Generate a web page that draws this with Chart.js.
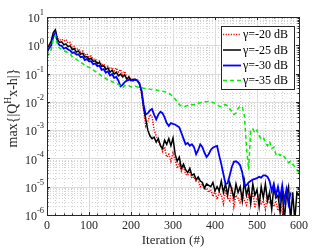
<!DOCTYPE html>
<html>
<head>
<meta charset="utf-8">
<script src="https://cdn.jsdelivr.net/npm/chart.js@4.4.0/dist/chart.umd.min.js"></script>
<style>
  html, body { margin: 0; padding: 0; background: #fff; }
</style>
</head>
<body>
<canvas id="chart" width="332" height="249"></canvas>
<script>
// iteration index, one sample every 5 iterations
const iterations = [
  0, 5, 10, 15, 20, 25, 30, 35, 40, 45,
  50, 55, 60, 65, 70, 75, 80, 85, 90, 95,
  100, 105, 110, 115, 120, 125, 130, 135, 140, 145,
  150, 155, 160, 165, 170, 175, 180, 185, 190, 195,
  200, 205, 210, 215, 220, 225, 230, 235, 240, 245,
  250, 255, 260, 265, 270, 275, 280, 285, 290, 295,
  300, 305, 310, 315, 320, 325, 330, 335, 340, 345,
  350, 355, 360, 365, 370, 375, 380, 385, 390, 395,
  400, 405, 410, 415, 420, 425, 430, 435, 440, 445,
  450, 455, 460, 465, 470, 475, 480, 485, 490, 495,
  500, 505, 510, 515, 520, 525, 530, 535, 540, 545,
  550, 555, 560, 565, 570, 575, 580, 585, 590, 595,
  600,
];

// series values stored as log10 of max{|Q^H x - h|}
const gamma20 = [
  -0.05, 0.0, 0.1, 0.35, 0.45, 0.25, 0.18, 0.22, 0.15, 0.2,
  0.08, 0.1, -0.08, -0.04, -0.15, -0.12, -0.24, -0.2, -0.35, -0.3,
  -0.42, -0.38, -0.5, -0.48, -0.6, -0.56, -0.7, -0.66, -0.78, -0.74,
  -0.84, -0.78, -0.9, -0.8, -0.95, -0.85, -1.05, -0.92, -1.15, -1.1,
  -1.22, -1.18, -1.25, -1.2, -1.35, -1.7, -2.3, -2.85, -2.7, -2.45,
  -2.5, -3.0, -3.2, -3.4, -3.5, -3.75, -3.6, -3.95, -3.85, -4.1,
  -3.8, -4.05, -4.35, -4.2, -4.45, -4.3, -4.55, -4.6, -4.45, -4.7,
  -4.65, -4.8, -4.75, -5.0, -4.9, -5.1, -5.05, -5.2, -5.1, -5.35,
  -5.15, -5.45, -5.2, -5.3, -5.6, -5.1, -5.4, -5.5, -5.0, -5.7,
  -5.3, -5.4, -5.6, -5.2, -5.5, -5.65, -5.3, -5.5, -5.2, -5.75,
  -5.4, -5.3, -5.6, -5.5, -5.8, -5.3, -5.6, -5.45, -5.7, -5.5,
  -5.85, -5.6, -5.9, -5.5, null, null, null, null, null, null,
  null,
];
const gamma25 = [
  -0.1, 0.0, 0.15, 0.45, 0.55, 0.2, 0.1, 0.12, 0.02, 0.05,
  -0.05, -0.02, -0.15, -0.12, -0.24, -0.2, -0.32, -0.28, -0.42, -0.4,
  -0.5, -0.46, -0.57, -0.55, -0.65, -0.6, -0.75, -0.72, -0.86, -0.8,
  -0.95, -0.88, -1.02, -0.95, -1.08, -1.02, -1.12, -1.05, -1.2, -1.12,
  -1.25, -1.2, -1.22, -1.25, -1.35, -1.6, -2.2, -2.6, -3.0, -3.2,
  -3.3, -3.25, -3.42, -3.3, -3.55, -3.65, -3.35, -3.5, -3.3, -3.55,
  -3.28, -3.85, -4.1, -3.95, -4.35, -4.2, -4.4, -4.5, -4.35, -4.6,
  -4.55, -4.75, -4.65, -4.8, -4.85, -5.05, -4.9, -4.95, -5.0, -4.85,
  -5.15, -5.0, -5.15, -4.8, -5.2, -4.9, -5.3, -4.85, -5.1, -5.4,
  -4.9, -5.2, -5.0, -5.5, -4.8, -5.3, -5.0, -5.6, -4.9, -5.3,
  -5.1, -5.7, -5.0, -5.4, -4.9, -5.5, -5.2, -5.8, -5.0, -5.4,
  -5.3, -5.9, -5.1, -6.2, -5.3, -5.0, -6.2, -5.2, -6.2, -5.2,
  -5.3,
];
const gamma30 = [
  -0.25, -0.1, 0.0, 0.3, 0.45, 0.1, 0.0, -0.02, -0.12, -0.08,
  -0.15, -0.18, -0.27, -0.25, -0.33, -0.32, -0.42, -0.4, -0.52, -0.48,
  -0.57, -0.56, -0.67, -0.64, -0.74, -0.72, -0.87, -0.84, -0.97, -0.92,
  -1.07, -1.02, -1.15, -1.12, -1.25, -1.45, -1.4, -1.3, -1.25, -1.22,
  -1.22, -1.25, -1.2, -1.25, -1.35, -1.6, -2.1, -2.45, -2.4, -2.3,
  -2.25, -2.45, -2.62, -2.45, -2.35, -2.4, -2.55, -2.75, -2.85, -2.75,
  -2.78, -2.8, -2.85, -2.9, -3.1, -3.3, -3.5, -3.45, -3.55, -3.5,
  -3.6, -3.85, -3.7, -3.5, -3.6, -3.8, -3.95, -3.85, -3.7, -3.62,
  -3.58, -3.56, -3.9, -4.2, -4.55, -4.9, -4.88, -4.6, -4.3, -4.12,
  -4.1, -4.15, -4.25, -4.5, -4.95, -4.95, -4.85, -4.8, -4.75, -4.72,
  -4.7, -4.65, -4.68, -4.6, -4.6, -4.65, -4.8, -5.15, -4.9, -5.3,
  -5.0, -5.4, -4.95, -5.5, -5.1, -5.6, -5.2, null, null, null,
  null,
];
const gamma35 = [
  -0.4, -0.3, -0.15, 0.2, 0.35, 0.0, -0.1, -0.15, -0.2, -0.22,
  -0.27, -0.3, -0.4, -0.45, -0.5, -0.55, -0.6, -0.65, -0.7, -0.75,
  -0.78, -0.82, -0.88, -0.92, -0.98, -1.03, -1.08, -1.12, -1.18, -1.22,
  -1.26, -1.28, -1.32, -1.35, -1.38, -1.45, -1.5, -1.42, -1.45, -1.43,
  -1.47, -1.48, -1.45, -1.47, -1.5, -1.5, -1.52, -1.53, -1.52, -1.55,
  -1.56, -1.57, -1.58, -1.6, -1.6, -1.62, -1.64, -1.67, -1.7, -1.75,
  -1.82, -1.9, -2.0, -2.1, -2.15, -2.17, -2.15, -2.13, -2.12, -2.1,
  -2.1, -2.08, -2.05, -2.03, -2.02, -2.0, -2.0, -1.98, -2.0, -2.02,
  -2.05, -2.1, -2.15, -2.17, -2.12, -2.1, -2.15, -2.25, -2.35, -2.45,
  -2.4, -2.23, -2.15, -2.18, -2.5, -3.6, -4.4, -3.0, -2.95, -3.1,
  -3.0, -3.2, -3.3, -3.25, -3.45, -3.55, -3.4, -3.65, -3.6, -3.85,
  -3.8, -3.9, -3.85, -3.95, -4.05, -4.15, -4.1, -4.2, -4.3, -4.4,
  -4.5,
];

const seriesLabels = ["\u03b3=-20 dB", "\u03b3=-25 dB", "\u03b3=-30 dB", "\u03b3=-35 dB"];
const xTicks = [0, 100, 200, 300, 400, 500, 600];
const yTickExps = [-6, -5, -4, -3, -2, -1, 0, 1];
const yMinorSteps = [2, 3, 4, 5, 6, 7, 8, 9];
const xMinorStep = 20;

const serif = '"Liberation Serif", "Times New Roman", serif';

const toPoints = (vals) =>
  vals.map((v, i) => (v === null ? { x: iterations[i], y: null } : { x: iterations[i], y: Math.pow(10, v) }));

const styles = [
  { color: "#ff0000", width: 1.5, dash: [1.2, 1.4] },
  { color: "#000000", width: 1.5, dash: [] },
  { color: "#0000ff", width: 1.8, dash: [] },
  { color: "#00ee00", width: 1.5, dash: [4, 3] },
];

const axesPlugin = {
  id: "matlabAxes",
  beforeDatasetsDraw(chart) {
    const { ctx, chartArea: a, scales } = chart;
    const xs = scales.x;
    const ys = scales.y;
    ctx.save();
    ctx.lineWidth = 1;

    // minor grid (dotted)
    ctx.strokeStyle = "#d4d4d4";
    ctx.setLineDash([1, 2]);
    for (let v = 0; v <= 600; v += xMinorStep) {
      if (v % 100 === 0) continue;
      const px = Math.round(xs.getPixelForValue(v)) + 0.5;
      ctx.beginPath();
      ctx.moveTo(px, a.top);
      ctx.lineTo(px, a.bottom);
      ctx.stroke();
    }
    yTickExps.slice(0, -1).forEach((e) => {
      yMinorSteps.forEach((m) => {
        const py = Math.round(ys.getPixelForValue(m * Math.pow(10, e))) + 0.5;
        ctx.beginPath();
        ctx.moveTo(a.left, py);
        ctx.lineTo(a.right, py);
        ctx.stroke();
      });
    });

    // major grid
    ctx.setLineDash([]);
    ctx.strokeStyle = "#dcdcdc";
    xTicks.forEach((v) => {
      const px = Math.round(xs.getPixelForValue(v)) + 0.5;
      ctx.beginPath();
      ctx.moveTo(px, a.top);
      ctx.lineTo(px, a.bottom);
      ctx.stroke();
    });
    yTickExps.forEach((e) => {
      const py = Math.round(ys.getPixelForValue(Math.pow(10, e))) + 0.5;
      ctx.beginPath();
      ctx.moveTo(a.left, py);
      ctx.lineTo(a.right, py);
      ctx.stroke();
    });
    ctx.restore();
  },
  afterDatasetsDraw(chart) {
    const { ctx, chartArea: a, scales } = chart;
    const xs = scales.x;
    const ys = scales.y;
    ctx.save();
    ctx.setLineDash([]);
    ctx.strokeStyle = "#262626";
    ctx.lineWidth = 1;

    // box
    ctx.strokeRect(Math.round(a.left) + 0.5, Math.round(a.top) + 0.5,
      Math.round(a.right - a.left), Math.round(a.bottom - a.top));

    // ticks (inward, all sides)
    const tick = (x1, y1, x2, y2) => {
      ctx.beginPath();
      ctx.moveTo(x1, y1);
      ctx.lineTo(x2, y2);
      ctx.stroke();
    };
    for (let v = 0; v <= 600; v += xMinorStep) {
      const px = Math.round(xs.getPixelForValue(v)) + 0.5;
      const len = v % 100 === 0 ? 3 : 1.5;
      tick(px, a.bottom, px, a.bottom - len);
      tick(px, a.top, px, a.top + len);
    }
    yTickExps.forEach((e, i) => {
      const py = Math.round(ys.getPixelForValue(Math.pow(10, e))) + 0.5;
      tick(a.left, py, a.left + 3, py);
      tick(a.right, py, a.right - 3, py);
      if (i === yTickExps.length - 1) return;
      yMinorSteps.forEach((m) => {
        const my = Math.round(ys.getPixelForValue(m * Math.pow(10, e))) + 0.5;
        tick(a.left, my, a.left + 1.5, my);
        tick(a.right, my, a.right - 1.5, my);
      });
    });

    // x tick labels
    ctx.fillStyle = "#262626";
    ctx.font = "12px " + serif;
    ctx.textAlign = "center";
    ctx.textBaseline = "middle";
    xTicks.forEach((v) => {
      ctx.fillText(String(v), xs.getPixelForValue(v), a.bottom + 11);
    });

    // y tick labels 10^e
    yTickExps.forEach((e) => {
      const py = ys.getPixelForValue(Math.pow(10, e));
      const exp = e < 0 ? "-" + Math.abs(e) : String(e);
      ctx.font = "8.5px " + serif;
      const ew = ctx.measureText(exp).width;
      ctx.font = "12px " + serif;
      const bw = ctx.measureText("10").width;
      const right = a.left - 3;
      ctx.textAlign = "left";
      ctx.fillText("10", right - ew - bw, py + 2);
      ctx.font = "8.5px " + serif;
      ctx.fillText(exp, right - ew, py - 4);
    });

    // axis titles
    ctx.font = "13px " + serif;
    ctx.textAlign = "center";
    ctx.fillText("Iteration (#)", (a.left + a.right) / 2, 241);

    ctx.save();
    ctx.translate(13, 108);
    ctx.rotate(-Math.PI / 2);
    const parts = [
      { t: "max{|Q", size: 14, dy: 0 },
      { t: "H", size: 9.5, dy: -5 },
      { t: "x-h|}", size: 14, dy: 0 },
    ];
    let total = 0;
    parts.forEach((p) => {
      ctx.font = p.size + "px " + serif;
      p.w = ctx.measureText(p.t).width;
      total += p.w;
    });
    let cx = -total / 2;
    ctx.textAlign = "left";
    parts.forEach((p) => {
      ctx.font = p.size + "px " + serif;
      ctx.fillText(p.t, cx, p.dy);
      cx += p.w;
    });
    ctx.restore();

    // legend
    const lx = 221, ly = 26, lw = 73, lh = 63;
    ctx.fillStyle = "#ffffff";
    ctx.fillRect(lx, ly, lw, lh);
    ctx.strokeStyle = "#262626";
    ctx.lineWidth = 1;
    ctx.strokeRect(lx + 0.5, ly + 0.5, lw, lh);
    const rows = [34.5, 50, 65.5, 80.5];
    seriesLabels.forEach((label, i) => {
      const s = styles[i];
      ctx.strokeStyle = s.color;
      ctx.lineWidth = s.width;
      ctx.setLineDash(s.dash);
      ctx.beginPath();
      ctx.moveTo(223, rows[i]);
      ctx.lineTo(241, rows[i]);
      ctx.stroke();
      ctx.setLineDash([]);
      ctx.fillStyle = "#000000";
      ctx.font = "12px " + serif;
      ctx.textAlign = "left";
      ctx.fillText(label, 243, rows[i] + 0.5);
    });
    ctx.restore();
  },
};

const allSeries = [gamma20, gamma25, gamma30, gamma35];

new Chart(document.getElementById("chart"), {
  type: "line",
  data: {
    datasets: allSeries.map((vals, i) => ({
      label: seriesLabels[i],
      data: toPoints(vals),
      borderColor: styles[i].color,
      borderWidth: styles[i].width,
      borderDash: styles[i].dash,
      pointRadius: 0,
      tension: 0,
      fill: false,
      spanGaps: false,
      order: 4 - i,
    })),
  },
  options: {
    responsive: false,
    animation: false,
    layout: { padding: { left: 47, top: 17, right: 33, bottom: 34 } },
    plugins: { legend: { display: false }, tooltip: { enabled: false } },
    scales: {
      x: { type: "linear", min: 0, max: 600, display: false },
      y: { type: "logarithmic", min: 1e-6, max: 10, display: false },
    },
  },
  plugins: [axesPlugin],
});
</script>
</body>
</html>
